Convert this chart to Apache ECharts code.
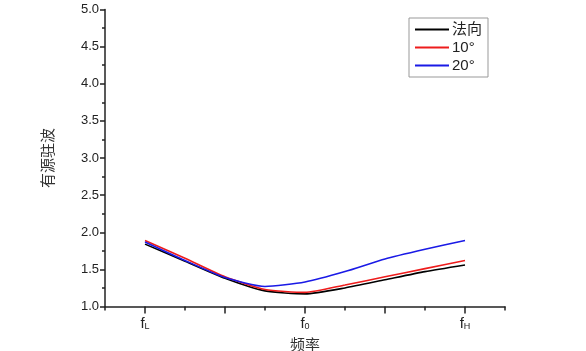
<!DOCTYPE html>
<html>
<head>
<meta charset="utf-8">
<script src="https://cdn.jsdelivr.net/npm/echarts@6/dist/echarts.min.js"></script>
<style>
  html, body { margin: 0; padding: 0; background: #fff; }
  #chart { width: 586px; height: 351px; }
</style>
</head>
<body>
<div id="chart"></div>
<script>
// frequency positions on the axis (fL = 1, f0 = 5, fH = 9)
const freqPos = [1, 2, 3, 4, 5, 6, 7, 8, 9]
const tickLabels = { 1: 'L', 5: '0', 9: 'H' }
const seriesNames = ['法向', '10°', '20°']
const normalVals = [1.84, 1.61, 1.38, 1.21, 1.17, 1.25, 1.36, 1.47, 1.56]
const deg10Vals = [1.89, 1.65, 1.40, 1.23, 1.19, 1.29, 1.40, 1.51, 1.62]
const deg20Vals = [1.87, 1.62, 1.39, 1.27, 1.33, 1.47, 1.64, 1.77, 1.89]
const colors = ['#000000', '#ee1c1c', '#1a1ae6']

function pairs(vals) {
  return freqPos.map((x, i) => [x, vals[i]])
}

const chart = echarts.init(document.getElementById('chart'))

const axisLine = { show: true, lineStyle: { color: '#222', width: 1.5 } }

chart.setOption({
  animation: false,
  textStyle: { fontFamily: 'Arial, "Liberation Sans", sans-serif' },
  grid: { left: 105, right: 81, top: 9.5, bottom: 44.5, outerBoundsMode: 'none' },
  legend: {
    orient: 'vertical',
    left: 409,
    top: 18,
    padding: [3, 6, 3, 6],
    borderColor: '#999',
    borderWidth: 1,
    itemWidth: 34,
    itemHeight: 2,
    itemGap: 1,
    icon: 'rect',
    textStyle: { fontSize: 15, lineHeight: 17, color: '#222', fontFamily: 'Arial, "Noto Sans CJK SC", sans-serif', padding: [0, 0, 0, -2] },
    data: seriesNames
  },
  xAxis: [{
    type: 'value',
    min: 0,
    max: 10,
    name: '频率',
    nameLocation: 'middle',
    nameGap: 23,
    nameTextStyle: { fontSize: 15, color: '#333', fontFamily: '"Noto Sans CJK SC", sans-serif' },
    axisLine: axisLine,
    splitLine: { show: false },
    axisTick: { show: true, customValues: [1, 3, 5, 7, 9], length: 7, lineStyle: { color: '#222', width: 1.5 } },
    axisLabel: {
      customValues: [1, 5, 9],
      margin: 10,
      formatter: function(v) { return '{f|f}{s|' + tickLabels[v] + '}' },
      rich: {
        f: { fontSize: 15, color: '#222', fontFamily: 'Arial' },
        s: { fontSize: 9, color: '#222', fontFamily: 'Arial', padding: [6, 0, 0, 0] }
      }
    }
  }, {
    type: 'value',
    min: 0,
    max: 10,
    interval: 1,
    position: 'bottom',
    axisLine: { show: false },
    splitLine: { show: false },
    axisTick: { show: true, length: 4, lineStyle: { color: '#222', width: 1.5 } },
    axisLabel: { show: false }
  }],
  yAxis: {
    type: 'value',
    min: 1,
    max: 5,
    interval: 0.5,
    name: '有源驻波',
    nameLocation: 'middle',
    nameGap: 50,
    nameTextStyle: { fontSize: 15, color: '#333', fontFamily: '"Noto Sans CJK SC", sans-serif' },
    axisLine: axisLine,
    splitLine: { show: false },
    axisTick: { show: true, length: 5, lineStyle: { color: '#222', width: 1.5 } },
    minorTick: { show: true, splitNumber: 2, length: 3, lineStyle: { color: '#222', width: 1.5 } },
    axisLabel: {
      fontSize: 13,
      color: '#222',
      margin: 6,
      formatter: function(v) { return v.toFixed(1) }
    }
  },
  series: [
    { name: seriesNames[0], data: pairs(normalVals) },
    { name: seriesNames[1], data: pairs(deg10Vals) },
    { name: seriesNames[2], data: pairs(deg20Vals) }
  ].map((s, i) => ({
    name: s.name,
    type: 'line',
    data: s.data,
    showSymbol: false,
    smooth: 0.2,
    color: colors[i],
    lineStyle: { width: 1.6, color: colors[i] }
  }))
})
</script>
</body>
</html>
